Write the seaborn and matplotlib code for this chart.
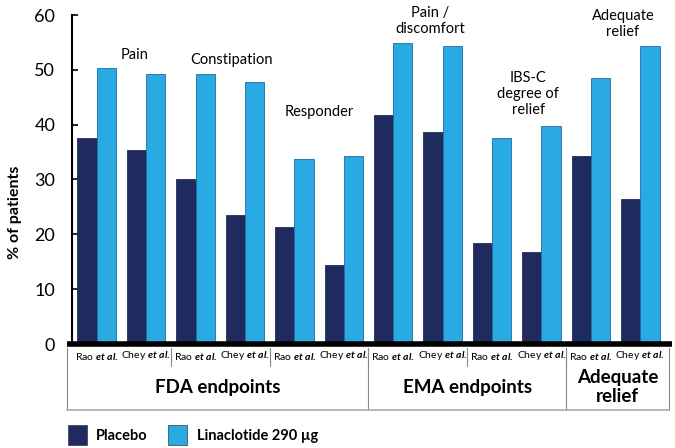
import pandas as pd
import matplotlib.pyplot as plt
import seaborn as sns
from matplotlib.transforms import blended_transform_factory
from matplotlib.patches import Rectangle

# Datos
endpoints = ["Pain", "Pain", "Constipation", "Constipation", "Responder", "Responder",
             "Pain / discomfort", "Pain / discomfort", "IBS-C relief", "IBS-C relief",
             "Adequate relief", "Adequate relief"]
studies = ["Rao", "Chey"] * 6
placebo = [37.5, 35.3, 30.0, 23.5, 21.4, 14.4, 41.8, 38.6, 18.5, 16.7, 34.2, 26.4]
linaclotide = [50.4, 49.2, 49.2, 47.8, 33.7, 34.2, 54.9, 54.3, 37.6, 39.7, 48.6, 54.4]
series = ["Placebo", "Linaclotide 290 \u00b5g"]

endpoint_notes = ["Pain", "Constipation", "Responder", "Pain /\ndiscomfort",
                  "IBS-C\ndegree of\nrelief", "Adequate\nrelief"]
note_x = [0.77, 2.73, 4.5, 6.75, 8.73, 10.65]
note_y = [52.7, 51.8, 42.4, 58.9, 45.6, 58.3]

study_labels = [r"Rao $\mathit{et\ al.}$", r"Chey $\mathit{et\ al.}$"] * 6
group_labels = ["FDA endpoints", "EMA endpoints", "Adequate\nrelief"]
group_spans = [(-0.6, 5.5), (5.5, 9.5), (9.5, 11.58)]

# Tabla larga para seaborn
rows = []
for i in range(len(endpoints)):
    key = f"{endpoints[i]}|{studies[i]}"
    rows.append({"grupo": key, "serie": series[0], "valor": placebo[i]})
    rows.append({"grupo": key, "serie": series[1], "valor": linaclotide[i]})
df = pd.DataFrame(rows)

sns.set_style("white")
plt.rcParams["font.family"] = ["Lato", "DejaVu Sans"]
plt.rcParams["mathtext.fontset"] = "custom"
plt.rcParams["mathtext.rm"] = "Lato:bold"
plt.rcParams["mathtext.it"] = "Lato:bold:italic"
plt.rcParams["text.color"] = "black"

navy = "#1f2a5e"
sky = "#29aae2"

fig = plt.figure(figsize=(6.75, 4.48), dpi=100)
ax = fig.add_axes([72 / 675, 1 - 344 / 448, (665 - 72) / 675, (344 - 15) / 448])

sns.barplot(data=df, x="grupo", y="valor", hue="serie", palette=[navy, sky],
            width=0.78, saturation=1, ax=ax, legend=False)
for bar in ax.patches:
    fc = bar.get_facecolor()
    bar.set_edgecolor("#1b6f9e" if fc[2] > 0.7 else navy)
    bar.set_linewidth(0.6)

ax.set_xlim(-0.5, 11.5)
ax.set_ylim(0, 60)
ax.set_yticks(range(0, 61, 10))
ax.tick_params(axis="y", direction="in", length=4, width=1.2, labelsize=13, pad=12,
               left=True, colors="black")
ax.set_xticks([])
ax.set_xlabel("")
ax.set_ylabel("% of patients", fontsize=11.5, fontweight="bold", labelpad=8, color="black")
ax.yaxis.set_label_coords(-0.085, 0.40)
for s in ["top", "right", "bottom"]:
    ax.spines[s].set_visible(False)
ax.spines["left"].set_linewidth(1.5)
ax.spines["left"].set_color("black")
# eje x grueso que se extiende mas alla del area
ax.plot([-0.6, 11.65], [0, 0], color="black", lw=4, clip_on=False, solid_capstyle="butt")

# Notas encima de las barras
for txt, x, y in zip(endpoint_notes, note_x, note_y):
    ax.text(x, y, txt, ha="center", va="center", fontsize=10.5, linespacing=1.2)

# Tabla inferior
tr = blended_transform_factory(ax.transData, fig.transFigure)
y_top = 1 - 348 / 448
y_row = 1 - 366 / 448
y_bot = 1 - 410 / 448
for i, lab in enumerate(study_labels):
    ax.text(i, 1 - 356 / 448, lab, transform=tr, ha="center", va="center", fontsize=7.5)
for k in range(1, 6):
    xs = 2 * k - 0.5
    ax.plot([xs, xs], [y_top, y_row], transform=tr, color="#888888", lw=0.8, clip_on=False)
for xs in [-0.6, 5.5, 9.5, 11.58]:
    ax.plot([xs, xs], [y_top, y_bot], transform=tr, color="#888888", lw=0.8, clip_on=False)
ax.plot([-0.6, 11.58], [y_bot, y_bot], transform=tr, color="#aaaaaa", lw=1.2, clip_on=False)
for lab, (a, b) in zip(group_labels, group_spans):
    ax.text((a + b) / 2, 1 - 387 / 448, lab, transform=tr, ha="center", va="center",
            fontsize=13.5, fontweight="bold", linespacing=1.1)

# Leyenda manual
for x0, col, lab, tx in [(68, navy, series[0], 96), (168, sky, series[1], 197)]:
    fig.patches.append(Rectangle((x0 / 675, 1 - 445 / 448), 19 / 675, 20 / 448,
                                 transform=fig.transFigure, facecolor=col,
                                 edgecolor="#333355", lw=0.5))
    fig.text(tx / 675, 1 - 436 / 448, lab, ha="left", va="center", fontsize=10.5, fontweight="bold")

fig.savefig("out.png", dpi=100)
